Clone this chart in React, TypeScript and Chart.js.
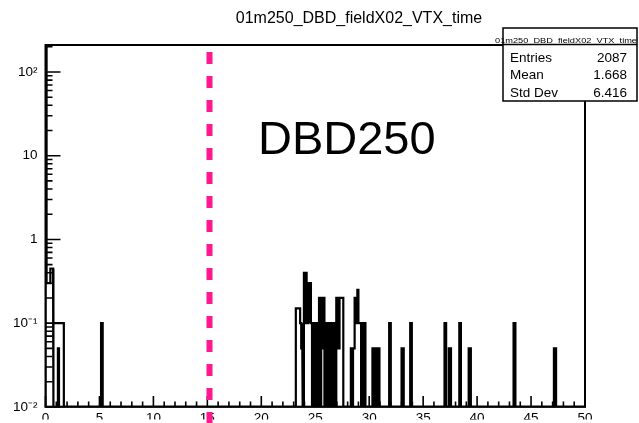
import React, { useEffect, useRef } from "react";
import { Chart, registerables } from "chart.js";

Chart.register(...registerables);

// ---------- texts ----------
const titleText = "01m250_DBD_fieldX02_VTX_time";
const annotationText = "DBD250";
const statsTitle = "01m250_DBD_fieldX02_VTX_time";
const statsNames = ["Entries", "Mean", "Std Dev"];
const statsValues = ["2087", "1.668", "6.416"];

// ---------- axes ----------
const xMin = 0;
const xMax = 50;
const xLabelStep = 5;
const xMinorStep = 1;
const yMin = 0.01;
const yMax = 210;
const yTickValues = [0.01, 0.1, 1, 10, 100];
const yTickLabels = ["10\u207B\u00B2", "10\u207B\u00B9", "1", "10", "10\u00B2"];

// vertical dashed marker (time cut)
const cutTime = 15.2;

// ---------- histogram (bin low edge, high edge, content) ----------
const binLow = [
  0.0, 0.1, 0.45, 0.7, 0.75,
  5.15,
  23.2, 23.6, 23.7, 23.8, 23.85,
  23.95, 24.05, 24.1, 24.2, 24.3, 24.35, 24.45, 24.5,
  24.6, 24.7, 24.8, 24.9, 25.0, 25.1, 25.2, 25.3,
  25.35, 25.45, 25.55, 25.65, 25.75, 25.85,
  25.95, 26.05, 26.15, 26.25, 26.35, 26.45, 26.55, 26.65, 26.75, 26.85,
  26.95, 27.1, 27.25,
  28.3, 28.4, 28.5, 28.65, 28.75, 28.9, 29.0, 29.15, 29.25, 29.35, 29.45, 29.55,
  30.3, 30.4, 30.5, 30.6, 30.7, 30.8, 30.85,
  31.85,
  33.0,
  33.8,
  36.98,
  37.38,
  38.35,
  39.22,
  43.38,
  47.12,
];
const binHigh = [
  0.1, 0.45, 0.7, 0.75, 1.7,
  5.3,
  23.6, 23.7, 23.8, 23.85, 23.95,
  24.05, 24.1, 24.2, 24.3, 24.35, 24.45, 24.5, 24.6,
  24.7, 24.8, 24.9, 25.0, 25.1, 25.2, 25.3, 25.35,
  25.45, 25.55, 25.65, 25.75, 25.85, 25.95,
  26.05, 26.15, 26.25, 26.35, 26.45, 26.55, 26.65, 26.75, 26.85, 26.95,
  27.1, 27.25, 27.6,
  28.4, 28.5, 28.65, 28.75, 28.9, 29.0, 29.15, 29.25, 29.35, 29.45, 29.55, 29.65,
  30.4, 30.5, 30.6, 30.7, 30.8, 30.85, 30.95,
  32.0,
  33.2,
  33.95,
  37.13,
  37.58,
  38.5,
  39.42,
  43.55,
  47.32,
];
const binContent = [
  1000, 0.3, 0.45, 0, 0.1,
  0.1,
  0.15, 0.1, 0.05, 0.1, 0,
  0.4, 0.1, 0.4, 0.3, 0.1, 0.3, 0.1, 0.3,
  0.1, 0, 0.1, 0, 0.1, 0, 0.1, 0,
  0.2, 0, 0.2, 0.05, 0.2, 0,
  0.1, 0, 0.1, 0, 0.1, 0, 0.1, 0, 0.1, 0,
  0.2, 0.05, 0.2,
  0.05, 0, 0.05, 0.2, 0.1, 0.25, 0.1, 0.1, 0, 0.1, 0, 0.1,
  0.05, 0, 0.05, 0, 0.05, 0, 0.05,
  0.1,
  0.05,
  0.1,
  0.1,
  0.05,
  0.1,
  0.05,
  0.1,
  0.05,
];
// a second, overlapping set of entries drawn on top
const overlayLow = [1.15];
const overlayHigh = [1.25];
const overlayContent = [0.05];

type Pt = { x: number; y: number };

function stepPath(lo: number[], hi: number[], val: number[]): Pt[] {
  const pts: Pt[] = [{ x: xMin, y: yMin }];
  let prevHi: number | null = null;
  for (let i = 0; i < lo.length; i++) {
    const v = Math.max(val[i], yMin);
    if (prevHi === null || Math.abs(lo[i] - prevHi) > 1e-9) {
      if (prevHi !== null) pts.push({ x: prevHi, y: yMin });
      pts.push({ x: lo[i], y: yMin });
    }
    pts.push({ x: lo[i], y: v });
    pts.push({ x: hi[i], y: v });
    prevHi = hi[i];
  }
  if (prevHi !== null) pts.push({ x: prevHi, y: yMin });
  pts.push({ x: xMax, y: yMin });
  return pts;
}

const FONT = "'Liberation Sans', Arial, Helvetica, sans-serif";

const decorPlugin = {
  id: "rootDecor",
  afterDraw(chart: any) {
    const { ctx, chartArea: a, scales } = chart;
    const xs = scales.x;
    const ys = scales.y;
    ctx.save();

    // frame
    ctx.strokeStyle = "#000";
    ctx.lineWidth = 2;
    ctx.strokeRect(a.left, a.top, a.right - a.left, a.bottom - a.top);

    // inward x ticks
    ctx.lineWidth = 1.6;
    ctx.beginPath();
    for (let v = xMin; v <= xMax + 1e-9; v += xMinorStep) {
      const px = xs.getPixelForValue(v);
      const len = Math.abs(v % xLabelStep) < 1e-9 ? 11 : 5.5;
      ctx.moveTo(px, a.bottom);
      ctx.lineTo(px, a.bottom - len);
    }
    ctx.stroke();

    // inward y ticks (log)
    ctx.beginPath();
    for (let d = -2; d <= 2; d++) {
      for (let m = 1; m <= 9; m++) {
        const v = m * Math.pow(10, d);
        if (v < yMin - 1e-12 || v > yMax) continue;
        const py = ys.getPixelForValue(v);
        const len = m === 1 ? 15 : 7;
        ctx.moveTo(a.left, py);
        ctx.lineTo(a.left + len, py);
      }
    }
    ctx.stroke();

    // dashed marker
    const cx = xs.getPixelForValue(cutTime);
    ctx.strokeStyle = "rgb(255, 24, 145)";
    ctx.lineWidth = 6;
    ctx.setLineDash([12, 12]);
    ctx.beginPath();
    ctx.moveTo(cx, a.top + 7);
    ctx.lineTo(cx, chart.height + 12);
    ctx.stroke();
    ctx.setLineDash([]);

    // annotation
    ctx.fillStyle = "#000";
    ctx.textAlign = "left";
    ctx.textBaseline = "alphabetic";
    ctx.font = `47px ${FONT}`;
    ctx.fillText(annotationText, 258, 154);

    // title
    ctx.font = `16px ${FONT}`;
    ctx.textAlign = "center";
    ctx.fillText(titleText, 359, 23);

    // stats box
    const bx = 503, by = 28, bw = 134, bh = 73;
    ctx.fillStyle = "#fff";
    ctx.fillRect(bx, by, bw, bh);
    ctx.strokeStyle = "#000";
    ctx.lineWidth = 1.5;
    ctx.strokeRect(bx, by, bw, bh);
    ctx.beginPath();
    ctx.moveTo(bx, 44.5);
    ctx.lineTo(bx + bw, 44.5);
    ctx.stroke();

    ctx.fillStyle = "#000";
    ctx.font = `7px ${FONT}`;
    const tw = ctx.measureText(statsTitle).width;
    ctx.save();
    ctx.translate(566, 43);
    ctx.scale(142 / tw, 1);
    ctx.textAlign = "center";
    ctx.fillText(statsTitle, 0, 0);
    ctx.restore();

    ctx.font = `13.5px ${FONT}`;
    const rowY = [61.5, 79, 96.5];
    for (let i = 0; i < statsNames.length; i++) {
      ctx.textAlign = "left";
      ctx.fillText(statsNames[i], 510, rowY[i]);
      ctx.textAlign = "right";
      ctx.fillText(statsValues[i], 627, rowY[i]);
    }
    ctx.restore();
  },
};

export default function App() {
  const ref = useRef<HTMLCanvasElement | null>(null);
  useEffect(() => {
    if (!ref.current) return;
    const mainPts = stepPath(binLow, binHigh, binContent);
    const overPts = stepPath(overlayLow, overlayHigh, overlayContent);
    const chart = new Chart(ref.current, {
      type: "line",
      data: {
        datasets: [
          {
            data: mainPts,
            borderColor: "#000",
            borderWidth: 2.2,
            pointRadius: 0,
            tension: 0,
            fill: false,
          },
          {
            data: overPts,
            borderColor: "#000",
            borderWidth: 2.2,
            pointRadius: 0,
            tension: 0,
            fill: false,
          },
        ],
      },
      options: {
        responsive: false,
        animation: false,
        layout: { padding: { left: 0, right: 54, top: 45, bottom: 0 } },
        plugins: {
          legend: { display: false },
          tooltip: { enabled: false },
          title: { display: false },
        },
        scales: {
          x: {
            type: "linear",
            min: xMin,
            max: xMax,
            grid: { display: false, drawTicks: false },
            border: { display: false },
            ticks: {
              stepSize: xLabelStep,
              autoSkip: false,
              maxRotation: 0,
              padding: 3,
              color: "#000",
              font: { family: FONT, size: 13.5 },
            },
            afterFit: (s: any) => {
              s.height = 12.5;
            },
          },
          y: {
            type: "logarithmic",
            min: yMin,
            max: yMax,
            grid: { display: false, drawTicks: false },
            border: { display: false },
            afterBuildTicks: (s: any) => {
              s.ticks = yTickValues.map((v) => ({ value: v }));
            },
            ticks: {
              autoSkip: false,
              padding: 8,
              color: "#000",
              font: { family: FONT, size: 13.5 },
              callback: (_v: any, i: number) => yTickLabels[i],
            },
            afterFit: (s: any) => {
              s.width = 45.5;
            },
          },
        },
      },
      plugins: [decorPlugin],
    });
    return () => chart.destroy();
  }, []);
  return (
    <div style={{ position: "fixed", left: 0, top: 0, width: 639, height: 423 }}>
      <canvas ref={ref} width={639} height={423} style={{ display: "block" }} />
    </div>
  );
}
